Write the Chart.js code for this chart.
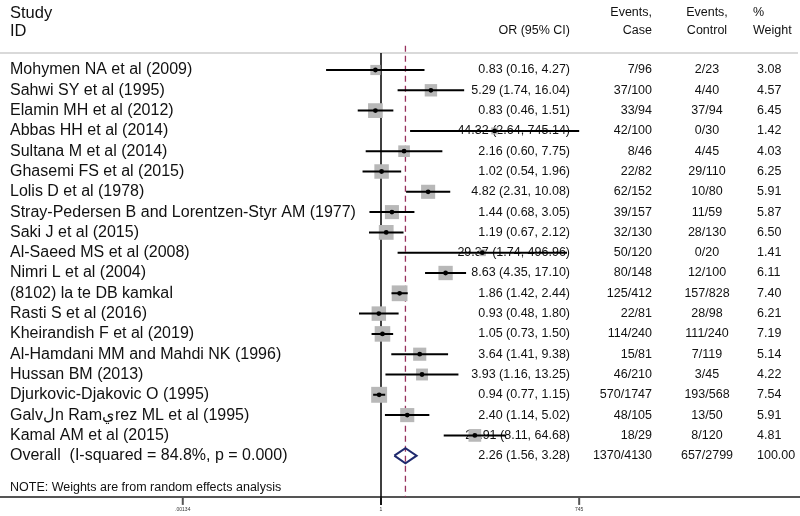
<!DOCTYPE html>
<html>
<head>
<meta charset="utf-8">
<script src="https://cdn.jsdelivr.net/npm/chart.js@4/dist/chart.umd.min.js"></script>
<style>
  html, body { margin: 0; padding: 0; background: #fff; }
  #wrap { width: 800px; height: 516px; }
</style>
</head>
<body>
<div id="wrap"><canvas id="forest"></canvas></div>
<script>
    // study rows, top to bottom
    var studies = [
        'Mohymen NA et al (2009)',
        'Sahwi SY et al (1995)',
        'Elamin MH et al (2012)',
        'Abbas HH et al (2014)',
        'Sultana M et al (2014)',
        'Ghasemi FS et al (2015)',
        'Lolis D et al (1978)',
        'Stray-Pedersen B and Lorentzen-Styr AM (1977)',
        'Saki J et al (2015)',
        'Al-Saeed MS et al (2008)',
        'Nimri L et al (2004)',
        '(8102) la te DB kamka\u0627',
        'Rasti S et al (2016)',
        'Kheirandish F et al (2019)',
        'Al-Hamdani MM and Mahdi NK (1996)',
        'Hussan BM (2013)',
        'Djurkovic-Djakovic O (1995)',
        'Galv\u0644n Ram\u064Arez ML et al (1995)',
        'Kamal AM et al (2015)'
    ];
    var oddsRatio = [0.83, 5.29, 0.83, 44.32, 2.16, 1.02, 4.82, 1.44, 1.19, 29.37, 8.63, 1.86, 0.93, 1.05, 3.64, 3.93, 0.94, 2.40, 22.91];
    var ciLow    = [0.16, 1.74, 0.46, 2.64, 0.60, 0.54, 2.31, 0.68, 0.67, 1.74, 4.35, 1.42, 0.48, 0.73, 1.41, 1.16, 0.77, 1.14, 8.11];
    var ciHigh   = [4.27, 16.04, 1.51, 745.14, 7.75, 1.96, 10.08, 3.05, 2.12, 496.96, 17.10, 2.44, 1.80, 1.50, 9.38, 13.25, 1.15, 5.02, 64.68];
    var eventsCase = ['7/96', '37/100', '33/94', '42/100', '8/46', '22/82', '62/152', '39/157', '32/130', '50/120',
                      '80/148', '125/412', '22/81', '114/240', '15/81', '46/210', '570/1747', '48/105', '18/29'];
    var eventsControl = ['2/23', '4/40', '37/94', '0/30', '4/45', '29/110', '10/80', '11/59', '28/130', '0/20',
                         '12/100', '157/828', '28/98', '111/240', '7/119', '3/45', '193/568', '13/50', '8/120'];
    var weights = [3.08, 4.57, 6.45, 1.42, 4.03, 6.25, 5.91, 5.87, 6.50, 1.41, 6.11, 7.40, 6.21, 7.19, 5.14, 4.22, 7.54, 5.91, 4.81];

    var overallLabel = 'Overall  (I-squared = 84.8%, p = 0.000)';
    var overallOR = 2.26, overallLow = 1.56, overallHigh = 3.28;
    var overallCase = '1370/4130', overallControl = '657/2799', overallWeight = '100.00';
    var axisTicks = [0.00134, 1, 745];
    var axisTickLabels = ['.00134', '1', '745'];

    var overallRow = studies.length;

    function fmt(v) { return v.toFixed(2); }

    var boxData = [], dotData = [], ciData = [];
    for (var i = 0; i < studies.length; i++) {
        boxData.push({x: oddsRatio[i], y: i});
        dotData.push({x: oddsRatio[i], y: i});
        ciData.push({x: ciLow[i], y: i}, {x: ciHigh[i], y: i}, {x: oddsRatio[i], y: null});
    }
    var boxRadius = weights.map(function(w) { return 4.1 * Math.sqrt(w); });

    var diamondData = [
        {x: overallLow, y: overallRow},
        {x: overallOR, y: overallRow - 0.37},
        {x: overallHigh, y: overallRow},
        {x: overallOR, y: overallRow + 0.37},
        {x: overallLow, y: overallRow}
    ];

    var textFont = '"Liberation Sans", Arial, sans-serif';

    var tablePlugin = {
        id: 'tablePlugin',
        beforeDatasetsDraw: function(chart) {
            var ctx = chart.ctx, ys = chart.scales.y, xs = chart.scales.x;
            ctx.save();
            ctx.fillStyle = '#111';
            ctx.textBaseline = 'middle';

            // header
            ctx.font = '16.5px ' + textFont;
            ctx.textAlign = 'left';
            ctx.fillText('Study', 10, 13);
            ctx.fillText('ID', 10, 31);
            ctx.font = '12.5px ' + textFont;
            ctx.textAlign = 'right';
            ctx.fillText('OR (95% CI)', 570, 31);
            ctx.fillText('Events,', 652, 13);
            ctx.fillText('Case', 652, 31);
            ctx.textAlign = 'center';
            ctx.fillText('Events,', 707, 13);
            ctx.fillText('Control', 707, 31);
            ctx.textAlign = 'left';
            ctx.fillText('%', 753, 13);
            ctx.fillText('Weight', 753, 31);

            // header rule
            ctx.strokeStyle = '#d9d9d9';
            ctx.lineWidth = 2;
            ctx.beginPath();
            ctx.moveTo(chart.chartArea.left, ys.getPixelForValue(-0.84));
            ctx.lineTo(798, ys.getPixelForValue(-0.84));
            ctx.stroke();

            // rows
            for (var i = 0; i <= studies.length; i++) {
                var y = ys.getPixelForValue(i);
                var isOverall = i === overallRow;
                ctx.font = '16px ' + textFont;
                ctx.textAlign = 'left';
                ctx.fillText(isOverall ? overallLabel : studies[i], 10, y);
                ctx.font = '12.5px ' + textFont;
                ctx.textAlign = 'right';
                var orText = isOverall
                    ? fmt(overallOR) + ' (' + fmt(overallLow) + ', ' + fmt(overallHigh) + ')'
                    : fmt(oddsRatio[i]) + ' (' + fmt(ciLow[i]) + ', ' + fmt(ciHigh[i]) + ')';
                ctx.fillText(orText, 570, y);
                ctx.fillText(isOverall ? overallCase : eventsCase[i], 652, y);
                ctx.textAlign = 'center';
                ctx.fillText(isOverall ? overallControl : eventsControl[i], 707, y);
                ctx.textAlign = 'left';
                ctx.fillText(isOverall ? overallWeight : fmt(weights[i]), 757, y);
            }

            ctx.font = '12.5px ' + textFont;
            ctx.fillText('NOTE: Weights are from random effects analysis', 10, ys.getPixelForValue(20.58));

            // x axis
            var axisY = ys.getPixelForValue(21.03);
            ctx.strokeStyle = '#555';
            ctx.lineWidth = 2;
            ctx.beginPath();
            ctx.moveTo(chart.chartArea.left, axisY);
            ctx.lineTo(chart.chartArea.right, axisY);
            ctx.stroke();
            ctx.font = '5px ' + textFont;
            ctx.fillStyle = '#333';
            ctx.textAlign = 'center';
            for (var t = 0; t < axisTicks.length; t++) {
                var tx = xs.getPixelForValue(axisTicks[t]);
                ctx.beginPath();
                ctx.moveTo(tx, axisY);
                ctx.lineTo(tx, axisY + 8);
                ctx.stroke();
                ctx.fillText(axisTickLabels[t], tx, axisY + 13);
            }
            ctx.restore();
        }
    };

    var ctx = document.getElementById('forest').getContext('2d');
    var chartObj = new Chart(ctx, {
        type: 'scatter',
        data: {
            datasets: [
                {
                    // point estimate
                    data: dotData,
                    pointStyle: 'circle',
                    pointRadius: 2.4,
                    backgroundColor: '#000',
                    borderWidth: 0,
                    order: 1
                },
                {
                    // confidence intervals
                    data: ciData,
                    showLine: true,
                    spanGaps: false,
                    borderColor: '#000',
                    borderWidth: 2,
                    pointRadius: 0,
                    order: 2
                },
                {
                    // weight boxes
                    data: boxData,
                    pointStyle: 'rect',
                    pointRadius: boxRadius,
                    backgroundColor: '#b8b8b8',
                    borderWidth: 0,
                    order: 3
                },
                {
                    // pooled diamond
                    data: diamondData,
                    showLine: true,
                    borderColor: '#1f2a6e',
                    borderWidth: 2,
                    pointRadius: 0,
                    order: 1
                },
                {
                    // pooled estimate line
                    data: [{x: overallOR, y: -1.2}, {x: overallOR, y: 21.03}],
                    showLine: true,
                    borderColor: '#98325e',
                    borderWidth: 1.3,
                    borderDash: [6, 4],
                    pointRadius: 0,
                    order: 4
                },
                {
                    // null line at OR = 1
                    data: [{x: 1, y: -0.84}, {x: 1, y: 21.43}],
                    showLine: true,
                    borderColor: '#000',
                    borderWidth: 1.5,
                    pointRadius: 0,
                    order: 4
                }
            ]
        },
        options: {
            responsive: true,
            maintainAspectRatio: false,
            animation: false,
            layout: { padding: 0, autoPadding: false },
            plugins: {
                legend: { display: false },
                tooltip: { enabled: false }
            },
            scales: {
                x: {
                    type: 'logarithmic',
                    display: false,
                    bounds: 'data',
                    min: Math.pow(10, -381 / 69),
                    max: Math.pow(10, (800 - 381) / 69)
                },
                y: {
                    type: 'linear',
                    display: false,
                    reverse: true,
                    bounds: 'data',
                    min: -70 / 20.3,
                    max: -70 / 20.3 + 516 / 20.3
                }
            }
        },
        plugins: [tablePlugin]
    });
</script>
</body>
</html>
